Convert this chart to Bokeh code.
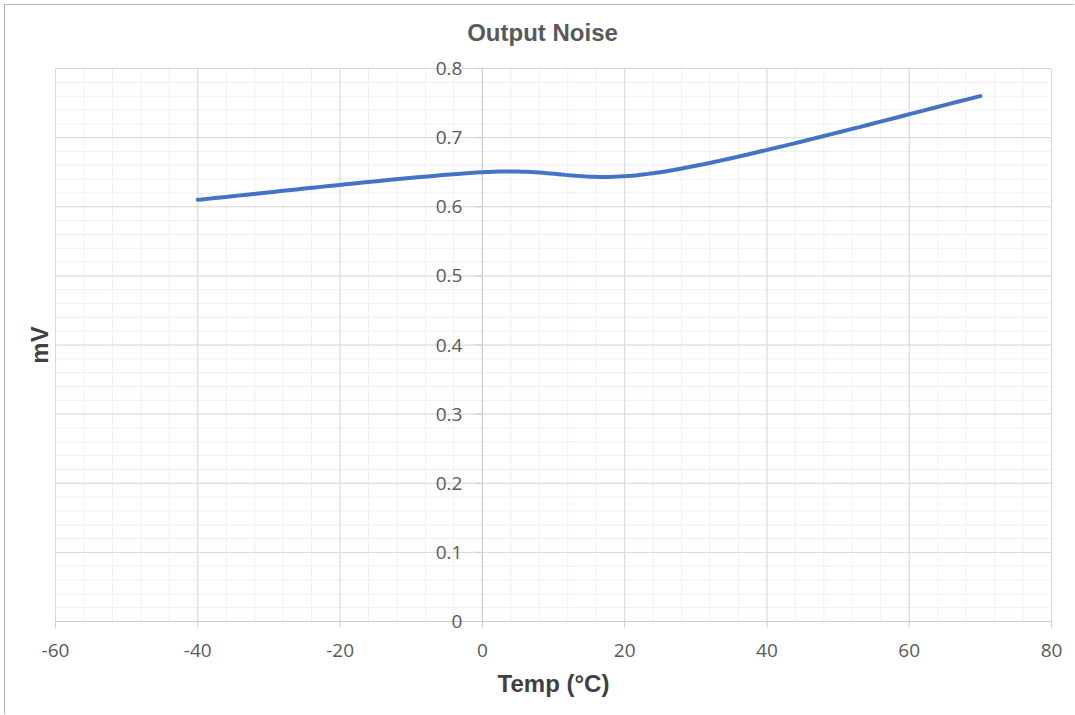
from bokeh.plotting import figure
from bokeh.models import Range1d, InlineStyleSheet
from bokeh.core.properties import value
from bokeh.embed import file_html
from bokeh.resources import INLINE

# ---- data ----
temps = [-40, 0, 25, 70]
noise_mv = [0.61, 0.65, 0.65, 0.76]
x_ticks = [-60, -40, -20, 0, 20, 40, 60, 80]
x_tick_labels = ["-60", "-40", "-20", "0", "20", "40", "60", "80"]
y_ticks = [0, 0.1, 0.2, 0.3, 0.4, 0.5, 0.6, 0.7, 0.8]
y_tick_labels = ["0", "0.1", "0.2", "0.3", "0.4", "0.5", "0.6", "0.7", "0.8"]
x_minor = list(range(-60, 81, 4))
y_minor = [round(i * 0.02, 4) for i in range(0, 41)]
title_text = "Output Noise"
x_title = "Temp (°C)"
y_title = "mV"

# Excel-style smoothed line (Bezier through the data points)
def smooth(xs, ys, n=40):
    P = list(zip(xs, ys))
    outx, outy = [], []
    for i in range(len(P) - 1):
        p0 = P[i - 1] if i > 0 else P[i]
        p1, p2 = P[i], P[i + 1]
        p3 = P[i + 2] if i + 2 < len(P) else P[i + 1]
        c1 = (p1[0] + (p2[0] - p0[0]) / 6, p1[1] + (p2[1] - p0[1]) / 6)
        c2 = (p2[0] - (p3[0] - p1[0]) / 6, p2[1] - (p3[1] - p1[1]) / 6)
        for k in range(n + 1):
            if i > 0 and k == 0:
                continue
            t = k / n
            a, b, c, d = (1 - t) ** 3, 3 * t * (1 - t) ** 2, 3 * t * t * (1 - t), t ** 3
            outx.append(a * p1[0] + b * c1[0] + c * c2[0] + d * p2[0])
            outy.append(a * p1[1] + b * c1[1] + c * c2[1] + d * p2[1])
    return outx, outy

sx, sy = smooth(temps, noise_mv)

# ---- layout (pixels) ----
W, H = 1070, 710          # canvas, placed at page (5,5)
L, R, T, B = 50, 1046, 63, 616   # plot area inside canvas
xmin, xmax = x_ticks[0], x_ticks[-1]
ymin, ymax = y_ticks[0], y_ticks[-1]
sxp = (R - L) / (xmax - xmin)
syp = (B - T) / (ymax - ymin)
xr = Range1d(xmin - L / sxp, xmin + (W - L) / sxp)
yr = Range1d(ymax - (H - T) / syp, ymax + T / syp)

p = figure(width=W, height=H, output_backend="svg", toolbar_location=None,
           x_range=xr, y_range=yr, x_axis_location=None, y_axis_location=None,
           min_border=0)
p.stylesheets = [InlineStyleSheet(css=":host { margin-left: 4px; margin-top: 4px; border-left: 1px solid #b4b4b4; border-top: 1px solid #b4b4b4; }")]
p.outline_line_color = None
p.grid.visible = False
p.background_fill_color = "white"
p.border_fill_color = "white"

minor_col = "#f0f0f0"
major_col = "#d9d9d9"
axis_col = "#cccccc"

# minor grid
p.segment(x0=x_minor, x1=x_minor, y0=[ymin] * len(x_minor), y1=[ymax] * len(x_minor),
          line_color=minor_col, line_width=1)
p.segment(x0=[xmin] * len(y_minor), x1=[xmax] * len(y_minor), y0=y_minor, y1=y_minor,
          line_color=minor_col, line_width=1)
# major grid
p.segment(x0=x_ticks, x1=x_ticks, y0=[ymin] * len(x_ticks), y1=[ymax] * len(x_ticks),
          line_color=major_col, line_width=1)
p.segment(x0=[xmin] * len(y_ticks), x1=[xmax] * len(y_ticks), y0=y_ticks, y1=y_ticks,
          line_color=major_col, line_width=1)

# x axis line + ticks
p.segment(x0=[xmin], x1=[xmax], y0=[0], y1=[0], line_color=axis_col, line_width=1)
p.segment(x0=x_ticks, x1=x_ticks, y0=[0] * len(x_ticks), y1=[-6 / syp] * len(x_ticks),
          line_color=axis_col, line_width=1)
# y axis line at x=0 + ticks
p.segment(x0=[0], x1=[0], y0=[ymin], y1=[ymax], line_color=axis_col, line_width=1)
p.segment(x0=[-7 / sxp] * len(y_ticks), x1=[0] * len(y_ticks), y0=y_ticks, y1=y_ticks,
          line_color=axis_col, line_width=1)

# tick labels
p.text(x=[0] * len(y_ticks), y=y_ticks, text=y_tick_labels, x_offset=-20,
       text_align="right", text_baseline="middle", text_font=value("Open Sans"),
       text_font_size="19px", text_color="#595959")
p.text(x=x_ticks, y=[0] * len(x_ticks), text=x_tick_labels, y_offset=29,
       text_align="center", text_baseline="middle", text_font=value("Open Sans"),
       text_font_size="19px", text_color="#595959")

# line
p.line(sx, sy, line_color="#4472c4", line_width=4, line_cap="round")

# titles
xc = (xmin + xmax) / 2
p.text(x=[xc], y=[ymax], text=[title_text], x_offset=-11, y_offset=-36,
       text_align="center", text_baseline="middle", text_font=value("Liberation Sans"),
       text_font_style="bold", text_font_size="24px", text_color="#595959")
p.text(x=[xc], y=[ymin], text=[x_title], y_offset=62,
       text_align="center", text_baseline="middle", text_font=value("Liberation Sans"),
       text_font_style="bold", text_font_size="24px", text_color="#404040")
p.text(x=[xmin], y=[(ymin + ymax) / 2], text=[y_title], x_offset=-16, angle=1.5707963,
       text_align="center", text_baseline="middle", text_font=value("Liberation Sans"),
       text_font_style="bold", text_font_size="24px", text_color="#404040")

open("out.html", "w").write(file_html(p, INLINE))
